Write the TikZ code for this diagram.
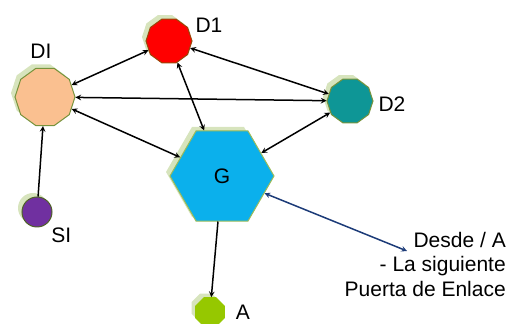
\documentclass[tikz,border=0pt]{standalone}
\usepackage{fontspec}
\setmainfont{Liberation Sans}
\usepackage{tikz}
\usetikzlibrary{shapes.geometric, arrows, shadows}

\definecolor{shade}{HTML}{D7E4BD}
\definecolor{diorange}{HTML}{FAC090}
\definecolor{dired}{HTML}{FF0000}
\definecolor{dteal}{HTML}{0E9696}
\definecolor{gblue}{HTML}{0BB0EC}
\definecolor{sipurple}{HTML}{7030A0}
\definecolor{alime}{HTML}{96C800}
\definecolor{olivedge}{HTML}{77933C}
\definecolor{brownedge}{HTML}{984807}
\definecolor{limeedge}{HTML}{9BBB59}
\definecolor{darkedge}{HTML}{4F6228}
\definecolor{navy}{HTML}{1C3B78}

\tikzstyle{device} = [regular polygon, regular polygon sides=10, inner sep=0pt, line width=1pt, drop shadow={shadow xshift=-4pt, shadow yshift=4pt, fill=shade, opacity=1}]
\tikzstyle{tag} = [inner sep=0pt]
\tikzstyle{note} = [inner sep=0pt, align=right, anchor=north east]
\tikzstyle{arrow} = [line width=1.5pt,<->,>=stealth]

\begin{document}
\begin{tikzpicture}[x=1pt, y=1pt, node distance=40pt, font=\fontsize{21}{24.5}\selectfont]
\useasboundingbox (0,0) rectangle (507,324);

\node (di) [device, minimum size=60pt, fill=diorange, draw=olivedge] at (45,227) {};
\node (d1) [device, minimum size=46pt, fill=dired, draw=brownedge] at (169,283) {};
\node (d2) [device, minimum size=46pt, fill=dteal, draw=olivedge] at (350,223) {};
\node (g) [device, regular polygon sides=6, minimum size=104pt, fill=gblue, draw=limeedge] at (222,148) {G};
\node (si) [device, circle, minimum size=30pt, fill=sipurple, draw=darkedge] at (37,112) {};
\node (a) [device, regular polygon sides=8, minimum size=31pt, fill=alime, draw=alime] at (210,12) {};

\node (dilbl) [tag, above of=di, xshift=-4pt, yshift=6pt] {DI};
\node (d1lbl) [tag, right of=d1, yshift=16pt] {D1};
\node (d2lbl) [tag, right of=d2, xshift=2pt, yshift=-3pt] {D2};
\node (silbl) [tag, below right of=si, xshift=-4pt, yshift=5pt] {SI};
\node (albl) [tag, right of=a, xshift=-7pt] {A};

\node (gw) [note] at (506,92) {Desde / A\\- La siguiente\\Puerta de Enlace};
\coordinate (gwtip) at (407,73);

\draw [arrow] (di) -- (d1);
\draw [arrow] (di) -- (d2);
\draw [arrow] (di) -- (g);
\draw [arrow] (d1) -- (g);
\draw [arrow] (d1) -- (d2);
\draw [arrow] (d2) -- (g);
\draw [arrow, ->] (si) -- (di);
\draw [arrow, ->] (g) -- (a);
\draw [arrow, draw=navy] (g) -- (gwtip);

\end{tikzpicture}
\end{document}
